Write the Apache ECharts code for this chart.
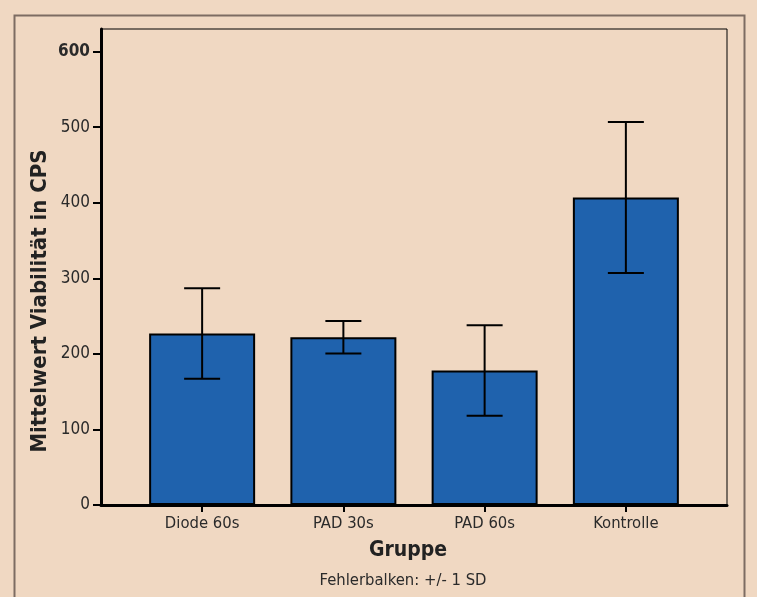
<!DOCTYPE html>
<html>
<head>
<meta charset="utf-8">
<script src="https://cdn.jsdelivr.net/npm/echarts@6/dist/echarts.min.js"></script>
<style>
  html, body { margin: 0; padding: 0; background: #f0d8c2; }
  #chart { width: 757px; height: 597px; }
</style>
</head>
<body>
<div id="chart"></div>
<script>
// Daten
const categories = ['Diode 60s', 'PAD 30s', 'PAD 60s', 'Kontrolle'];
const means = [227, 222, 178, 407];
const sds = [60, 21.5, 60, 100];
const yTicks = [0, 100, 200, 300, 400, 500, 600];

const font = "'Liberation Sans Narrow', 'DejaVu Sans Condensed', 'Roboto Condensed', sans-serif";

const barData = means.map((m, i) => [i + 1, m]);
const errData = means.map((m, i) => [i + 1, m - sds[i], m + sds[i]]);

const chart = echarts.init(document.getElementById('chart'));

chart.setOption({
    backgroundColor: '#f0d8c2',
    animation: false,
    grid: {
        left: 101, top: 29, right: 30, bottom: 92,
        show: true,
        borderColor: '#000',
        borderWidth: 1
    },
    xAxis: {
        type: 'value',
        min: 0.284,
        max: 4.716,
        splitLine: { show: false },
        axisLine: { show: true, onZero: false, lineStyle: { color: '#000', width: 3 } },
        axisTick: {
            show: true,
            customValues: [1, 2, 3, 4],
            length: 7,
            lineStyle: { color: '#000', width: 2 }
        },
        axisLabel: {
            customValues: [1, 2, 3, 4],
            formatter: v => categories[Math.round(v) - 1] || '',
            color: '#2a2a2a',
            fontFamily: font,
            fontSize: 16.5,
            margin: 10
        }
    },
    yAxis: {
        type: 'value',
        min: 0,
        max: 630,
        splitLine: { show: false },
        axisLine: { show: true, lineStyle: { color: '#000', width: 3 } },
        axisTick: {
            show: true,
            customValues: yTicks,
            length: 8,
            lineStyle: { color: '#000', width: 2 }
        },
        axisLabel: {
            customValues: yTicks,
            formatter: v => v === 600 ? '{b|600}' : String(v),
            color: '#2a2a2a',
            fontFamily: font,
            fontSize: 17,
            margin: 11,
            rich: {
                b: { fontWeight: 'bold', fontFamily: font, fontSize: 17, color: '#2a2a2a' }
            }
        }
    },
    graphic: [
        {
            type: 'rect',
            silent: true,
            shape: { x: 14.5, y: 15.5, width: 730, height: 620 },
            style: { fill: 'none', stroke: '#7d6c62', lineWidth: 2 }
        },
        {
            type: 'text',
            x: 40, y: 301,
            rotation: Math.PI / 2,
            style: {
                text: 'Mittelwert Viabilität in CPS',
                fontFamily: font,
                fontWeight: 'bold',
                fontSize: 22,
                fill: '#222',
                align: 'center',
                verticalAlign: 'middle'
            }
        },
        {
            type: 'text',
            x: 408, y: 551,
            style: {
                text: 'Gruppe',
                fontFamily: font,
                fontWeight: 'bold',
                fontSize: 21,
                fill: '#222',
                align: 'center',
                verticalAlign: 'middle'
            }
        },
        {
            type: 'text',
            x: 403, y: 581,
            style: {
                text: 'Fehlerbalken: +/- 1 SD',
                fontFamily: font,
                fontSize: 16.5,
                fill: '#2a2a2a',
                align: 'center',
                verticalAlign: 'middle'
            }
        }
    ],
    series: [
        {
            type: 'bar',
            data: barData,
            barWidth: 106,
            itemStyle: { color: '#1f62ad', borderColor: '#000', borderWidth: 2 }
        },
        {
            type: 'custom',
            data: errData,
            z: 10,
            renderItem: function (params, api) {
                const x = api.value(0);
                const lo = api.coord([x, api.value(1)]);
                const hi = api.coord([x, api.value(2)]);
                const half = 18;
                const st = { stroke: '#000', lineWidth: 2 };
                return {
                    type: 'group',
                    children: [
                        { type: 'line', shape: { x1: hi[0], y1: hi[1], x2: lo[0], y2: lo[1] }, style: st },
                        { type: 'line', shape: { x1: hi[0] - half, y1: hi[1], x2: hi[0] + half, y2: hi[1] }, style: st },
                        { type: 'line', shape: { x1: lo[0] - half, y1: lo[1], x2: lo[0] + half, y2: lo[1] }, style: st }
                    ]
                };
            }
        }
    ]
});
</script>
</body>
</html>
